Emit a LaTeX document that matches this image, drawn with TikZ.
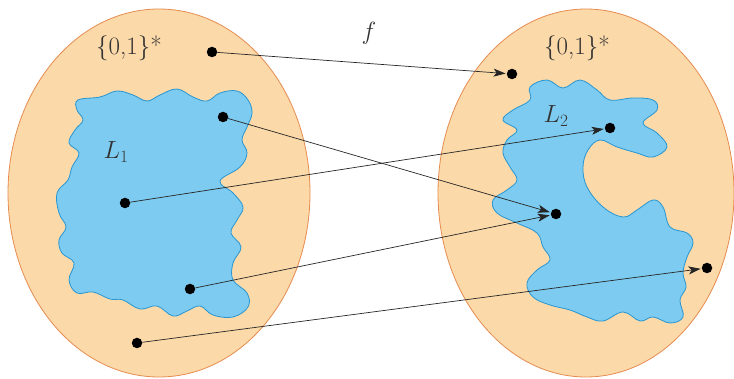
\documentclass[tikz,border=0pt]{standalone}
\usetikzlibrary{arrows.meta}
\definecolor{setfill}{RGB}{251,217,168}
\definecolor{setline}{RGB}{230,140,80}
\definecolor{langfill}{RGB}{125,203,240}
\definecolor{langline}{RGB}{40,150,210}
\begin{document}
\begin{tikzpicture}[x=1pt,y=-1pt,
  setshape/.style={fill=setfill,draw=setline,line width=0.8pt},
  langshape/.style={fill=langfill,draw=langline,line width=0.8pt},
  dot/.style={circle,fill=black,inner sep=0pt,minimum size=10.5pt},
  arr/.style={draw=black!85,line width=0.7pt,-{Stealth[length=12pt,width=8pt,inset=3pt]},shorten >=1pt},
  lbl/.style={font=\fontsize{25}{28}\selectfont,text=black!80,inner sep=0pt}]
\useasboundingbox (0,0) rectangle (734,379);
% sets
\draw[setshape] (159,193) ellipse [x radius=151, y radius=184];
\draw[setshape] (586,193) ellipse [x radius=148, y radius=184];
% L1
\draw[langshape] plot[smooth cycle,tension=0.65] coordinates {
(78,100) (100,97) (117,91) (133,95) (147,101) (160,95) (177,89) (193,97) (207,101)
(220,93) (237,91) (248,100) (252,113) (247,127) (242,140) (247,153) (240,167)
(220,181) (233,193) (243,207) (237,220) (231,233) (241,247) (233,263) (233,280)
(247,293) (248,307) (233,317) (213,315) (200,306) (187,311) (173,316) (157,306)
(140,309) (123,300) (110,299) (93,292) (77,293) (69,280) (74,263) (62,253)
(59,240) (66,227) (59,213) (57,193) (68,180) (72,167) (79,153) (69,143)
(75,130) (83,120) (77,110)};
% L2
\draw[langshape] plot[smooth cycle,tension=0.65] coordinates {
(530,87) (547,80) (563,88) (580,80) (597,90) (610,100) (633,98) (653,100)
(657,110) (643,123) (657,133) (667,147) (653,157) (637,153) (617,147) (600,140)
(588,150) (583,167) (587,187) (603,207) (623,217) (637,210) (653,200) (663,207)
(670,227) (687,233) (693,243) (687,257) (683,273) (686,287) (680,300) (683,317)
(670,323) (653,317) (640,321) (623,312) (603,321) (587,317) (570,310) (550,305)
(533,297) (527,283) (537,270) (550,260) (543,247) (537,233) (517,223) (497,213)
(493,200) (507,190) (517,180) (510,167) (503,153) (507,140) (517,130) (503,120)
(513,110) (530,100)};
% labels
\node[lbl] (s1) at (129,48) {\{0,1\}*};
\node[lbl] (s2) at (577,48) {\{0,1\}*};
\node[lbl] (l1) at (116,152) {$L_1$};
\node[lbl] (l2) at (556,116) {$L_2$};
\node[lbl] (f) at (369,33) {$f$};
% points
\node[dot] (a1) at (212,52) {};
\node[dot] (a2) at (223,117) {};
\node[dot] (a3) at (125,203) {};
\node[dot] (a4) at (190,289) {};
\node[dot] (a5) at (137,343) {};
\node[dot] (b1) at (512,74) {};
\node[dot] (b2) at (610,128) {};
\node[dot] (b3) at (556,214) {};
\node[dot] (b4) at (707,268) {};
% maps
\draw[arr] (a1) -- (b1);
\draw[arr] (a2) -- (b3);
\draw[arr] (a3) -- (b2);
\draw[arr] (a4) -- (b3);
\draw[arr] (a5) -- (b4);
\end{tikzpicture}
\end{document}
